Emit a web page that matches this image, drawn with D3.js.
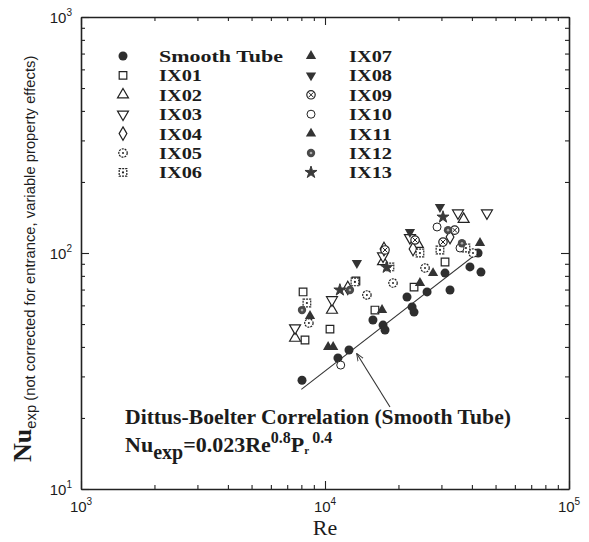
<!DOCTYPE html>
<meta charset="utf-8">
<head>
  <script src="https://cdn.jsdelivr.net/npm/d3@7"></script>
  <style>
    body { margin: 0; background: #fff; }
    svg text { fill: #1c1c1c; }
  </style>
</head>
<body>
<div id="chart"></div>
<script>
// data: [Re, Nu]
var seriesNames = ["Smooth Tube", "IX01", "IX02", "IX03", "IX04", "IX05", "IX06",
                   "IX07", "IX08", "IX09", "IX10", "IX11", "IX12", "IX13"];
var smoothTube = [[8050, 28.9], [11300, 35.9], [12540, 38.8], [15720, 52.0], [17290, 49.5],
                  [17620, 47.2], [21680, 65.1], [22740, 59.1], [23170, 56.2], [26200, 68.4],
                  [31040, 82.2], [32540, 69.7], [39270, 87.3], [43570, 83.0], [42390, 100]];
var ix01 = [[8130, 68.4], [8280, 42.8], [10480, 47.6], [13390, 76.1], [16020, 57.3], [23170, 71.7], [31040, 91.6]];
var ix02 = [[7540, 43.6], [10680, 57.3], [17290, 92], [24000, 109], [37000, 139]];
var ix03 = [[7540, 48.1], [10680, 63.3], [17290, 97], [22290, 116], [35080, 147.6], [46110, 147.6]];
var ix04 = [[12400, 71.1], [17450, 104], [22950, 104], [32540, 116.9]];
var ix05 = [[8590, 50.5], [14850, 66.4], [19000, 74.6], [25700, 86.4], [40420, 100]];
var ix06 = [[8430, 61.4], [13260, 75.4], [18460, 87.3], [24500, 100], [29590, 103], [37810, 105]];
var ix07 = [[8680, 54.1], [10300, 40.0], [24500, 74.6], [43180, 110.2]];
var ix08 = [[13510, 90.7], [22290, 122.7], [29590, 156.7]];
var ix09 = [[17620, 103], [23390, 113.5], [30450, 111.3], [34000, 125]];
var ix10 = [[11600, 33.5], [28790, 128.9], [35750, 105]];
var ix11 = [[10800, 40.0], [17130, 57.3], [27720, 82.2]];
var ix12 = [[8050, 57.3], [12650, 69.7], [31930, 125], [36420, 110]];
var ix13 = [[11510, 69.7], [17900, 87], [30450, 142]];
var seriesData = [smoothTube, ix01, ix02, ix03, ix04, ix05, ix06, ix07, ix08, ix09, ix10, ix11, ix12, ix13];
var markerKinds = ["fcircle", "square", "tri", "itri", "diamond", "dotcircle", "dotsquare",
                   "ftri", "fitri", "xcircle", "circle", "ftri", "gcircle", "star"];

// Dittus-Boelter line, Pr = 0.7
var lineRe = [8000, 42000];
var prandtl = 0.7;

var width = 589, height = 542;
var x = d3.scaleLog().domain([1e3, 1e5]).range([81, 569]);
var y = d3.scaleLog().domain([10, 1000]).range([489, 17]);

var svg = d3.select("#chart").append("svg")
  .attr("width", width).attr("height", height);

var ink = "#222";

// axes, ticks pointing inward on all sides
function logTicks(domain) {
  var out = [];
  for (var e = Math.log10(domain[0]); e < Math.log10(domain[1]); e++)
    for (var m = 1; m < 10; m++) out.push(m * Math.pow(10, e));
  out.push(domain[1]);
  return out;
}
var xTicks = logTicks(x.domain()), yTicks = logTicks(y.domain());
var isMajor = function (v) { return Math.abs(Math.log10(v) - Math.round(Math.log10(v))) < 1e-9; };

function addAxis(axisFn, scale, ticks, transform, sign) {
  var g = svg.append("g").attr("transform", transform);
  g.call(axisFn(scale).tickValues(ticks).tickFormat("").tickSizeOuter(0)
    .tickSizeInner(0));
  g.selectAll(".tick line").attr("stroke", ink).attr("stroke-width", 1.1)
    .each(function (d) {
      var len = isMajor(d) ? 8 : 4;
      var el = d3.select(this);
      if (axisFn === d3.axisBottom || axisFn === d3.axisTop) el.attr("y2", sign * len);
      else el.attr("x2", sign * len);
    });
  g.select(".domain").attr("stroke", ink).attr("stroke-width", 1.6);
}
addAxis(d3.axisBottom, x, xTicks, "translate(0,489)", -1);
addAxis(d3.axisTop, x, xTicks, "translate(0,17)", 1);
addAxis(d3.axisLeft, y, yTicks, "translate(81,0)", 1);
addAxis(d3.axisRight, y, yTicks, "translate(569,0)", -1);

// tick labels with superscript exponents
var numFont = "Liberation Sans, Arial, sans-serif";
[1e3, 1e4, 1e5].forEach(function (v) {
  var t = svg.append("text").attr("x", x(v)).attr("y", 512)
    .attr("text-anchor", "middle").style("font-family", numFont).style("font-size", "15px");
  t.append("tspan").text("10");
  t.append("tspan").attr("dy", -7).style("font-size", "10px").text(Math.round(Math.log10(v)));
});
[10, 100, 1000].forEach(function (v) {
  var t = svg.append("text").attr("x", 72).attr("y", y(v) + 6)
    .attr("text-anchor", "end").style("font-family", numFont).style("font-size", "15px");
  t.append("tspan").text("10");
  t.append("tspan").attr("dy", -7).style("font-size", "10px").text(Math.round(Math.log10(v)));
});

// axis titles
svg.append("text").attr("x", 325).attr("y", 535).attr("text-anchor", "middle")
  .style("font-family", "Liberation Serif, Times New Roman, serif").style("font-size", "22px")
  .text("Re");

var yt = svg.append("text").attr("transform", "translate(31,462) rotate(-90)");
yt.append("tspan").style("font-family", "Liberation Serif, serif").style("font-weight", "bold")
  .style("font-size", "26px").text("Nu");
yt.append("tspan").attr("dy", 5).style("font-family", numFont).style("font-size", "14.8px").text("exp");
yt.append("tspan").attr("dy", -1).style("font-family", numFont).style("font-size", "14.8px")
  .text(" (not corrected for entrance, variable property effects)");

// markers
function drawMarker(g, kind, cx, cy) {
  var sym = d3.symbol();
  var tr = "translate(" + cx + "," + cy + ")";
  var stroke = 1.2;
  if (kind === "fcircle") {
    g.append("circle").attr("cx", cx).attr("cy", cy).attr("r", 4.5).attr("fill", "#2e2e2e");
  } else if (kind === "gcircle") {
    g.append("circle").attr("cx", cx).attr("cy", cy).attr("r", 4.2).attr("fill", "#4a4a4a");
    g.append("circle").attr("cx", cx).attr("cy", cy).attr("r", 1.3).attr("fill", "#aaa");
  } else if (kind === "circle") {
    g.append("circle").attr("cx", cx).attr("cy", cy).attr("r", 4).attr("fill", "#fff")
      .attr("stroke", ink).attr("stroke-width", 1);
  } else if (kind === "dotcircle" || kind === "xcircle") {
    g.append("circle").attr("cx", cx).attr("cy", cy).attr("r", 4.2).attr("fill", "#fff")
      .attr("stroke", ink).attr("stroke-width", stroke).attr("stroke-dasharray", kind === "dotcircle" ? "2,1" : null);
    if (kind === "dotcircle")
      g.append("circle").attr("cx", cx).attr("cy", cy).attr("r", 1).attr("fill", ink);
    else
      g.append("path").attr("d", "M" + (cx - 2.5) + "," + (cy - 2.5) + "L" + (cx + 2.5) + "," + (cy + 2.5) +
        "M" + (cx + 2.5) + "," + (cy - 2.5) + "L" + (cx - 2.5) + "," + (cy + 2.5))
        .attr("stroke", ink).attr("stroke-width", 1);
  } else if (kind === "square" || kind === "dotsquare") {
    g.append("path").attr("d", sym.type(d3.symbolSquare).size(58)()).attr("transform", tr)
      .attr("fill", "#fff").attr("stroke", ink).attr("stroke-width", stroke)
      .attr("stroke-dasharray", kind === "dotsquare" ? "2,1" : null);
    if (kind === "dotsquare")
      g.append("circle").attr("cx", cx).attr("cy", cy).attr("r", 1.1).attr("fill", ink);
  } else if (kind === "tri" || kind === "itri") {
    g.append("path").attr("d", sym.type(d3.symbolTriangle).size(52)())
      .attr("transform", tr + (kind === "itri" ? " rotate(180)" : ""))
      .attr("fill", "#fff").attr("stroke", ink).attr("stroke-width", stroke);
  } else if (kind === "ftri" || kind === "fitri") {
    g.append("path").attr("d", sym.type(d3.symbolTriangle).size(46)())
      .attr("transform", tr + (kind === "fitri" ? " rotate(180)" : ""))
      .attr("fill", "#333");
  } else if (kind === "diamond") {
    g.append("path").attr("d", sym.type(d3.symbolDiamond).size(52)()).attr("transform", tr)
      .attr("fill", "#fff").attr("stroke", ink).attr("stroke-width", stroke);
  } else if (kind === "star") {
    g.append("path").attr("d", sym.type(d3.symbolStar).size(45)()).attr("transform", tr)
      .attr("fill", "#3a3a3a").attr("stroke", "#3a3a3a").attr("stroke-width", 1);
  }
}

// Dittus-Boelter correlation line
var dbNu = function (re) { return 0.023 * Math.pow(re, 0.8) * Math.pow(prandtl, 0.4); };
svg.append("line")
  .attr("x1", x(lineRe[0])).attr("y1", y(dbNu(lineRe[0])))
  .attr("x2", x(lineRe[1])).attr("y2", y(dbNu(lineRe[1])))
  .attr("stroke", "#333").attr("stroke-width", 1.1);

// data points
var pts = svg.append("g");
seriesData.forEach(function (s, i) {
  s.forEach(function (d) { drawMarker(pts, markerKinds[i], x(d[0]), y(d[1])); });
});

// legend
var serif = "Liberation Serif, Times New Roman, serif";
seriesNames.forEach(function (name, i) {
  var col = i < 7 ? 0 : 1, row = i % 7;
  var sx = col === 0 ? 123 : 311, tx = col === 0 ? 159 : 349;
  var by = 62 + row * 19.4;
  drawMarker(svg, markerKinds[i], sx, by - 6);
  svg.append("text").attr("x", tx).attr("y", by)
    .attr("textLength", i === 0 ? 124 : 43).attr("lengthAdjust", "spacingAndGlyphs")
    .style("font-family", serif).style("font-weight", "bold").style("font-size", "17.5px")
    .text(name);
});

// annotation
svg.append("text").attr("x", 125).attr("y", 424)
  .attr("textLength", 386).attr("lengthAdjust", "spacingAndGlyphs")
  .style("font-family", serif).style("font-weight", "bold").style("font-size", "21px")
  .text("Dittus-Boelter Correlation (Smooth Tube)");
var eq = svg.append("text").attr("x", 125).attr("y", 452)
  .style("font-family", serif).style("font-weight", "bold").style("font-size", "22px");
eq.append("tspan").text("Nu");
eq.append("tspan").attr("dy", 7).style("font-size", "20px").text("exp");
eq.append("tspan").attr("dy", -7).text("=0.023Re");
eq.append("tspan").attr("dy", -9).style("font-size", "16px").text("0.8");
eq.append("tspan").attr("dy", 9).text("P");
eq.append("tspan").attr("dy", 2).style("font-size", "11px").text("r");
eq.append("tspan").attr("dy", -11).attr("dx", 3).style("font-size", "16px").text("0.4");

// arrow to the line
var defs = svg.append("defs");
defs.append("marker").attr("id", "arr").attr("viewBox", "0 0 10 10")
  .attr("refX", 9).attr("refY", 5).attr("markerWidth", 7).attr("markerHeight", 7)
  .attr("orient", "auto")
  .append("path").attr("d", "M0,1L10,5L0,9").attr("fill", "none").attr("stroke", "#333").attr("stroke-width", 1.2);
svg.append("line").attr("x1", 390).attr("y1", 407).attr("x2", 357).attr("y2", 354)
  .attr("stroke", "#333").attr("stroke-width", 1.1).attr("marker-end", "url(#arr)");
</script>
</body>
